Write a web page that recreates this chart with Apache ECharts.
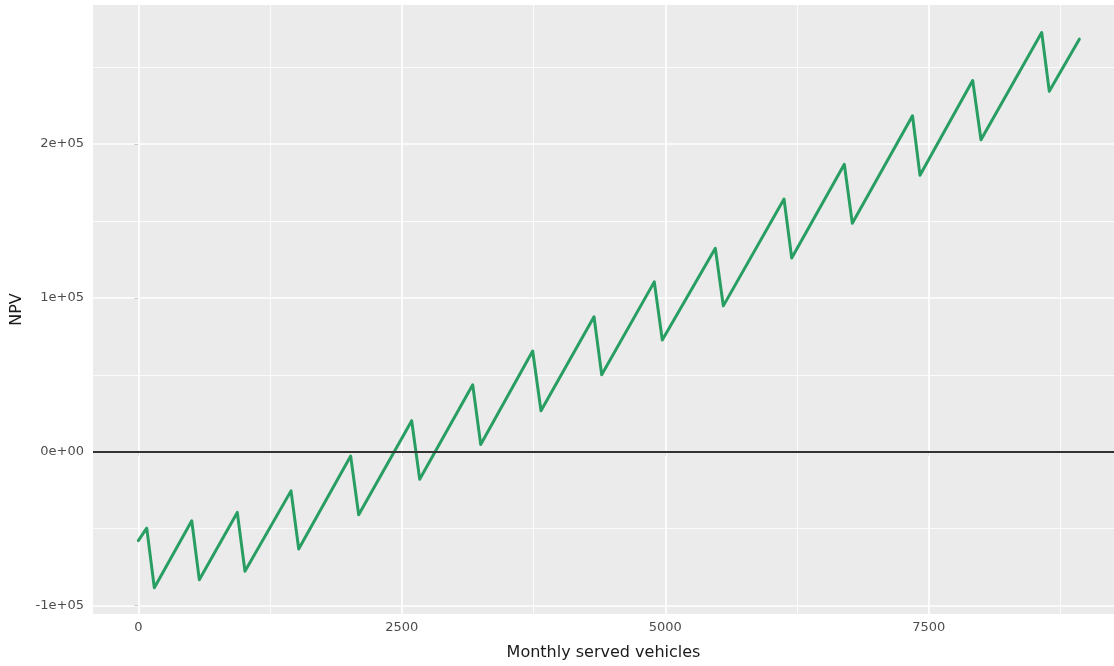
<!DOCTYPE html>
<html>
<head>
<meta charset="utf-8">
<title>NPV vs monthly served vehicles</title>
<script src="https://cdn.jsdelivr.net/npm/echarts@6/dist/echarts.min.js"></script>
<style>
  html, body { margin: 0; padding: 0; background: #ffffff; }
  #chart { width: 1114px; height: 666px; }
</style>
</head>
<body>
<div id="chart"></div>
<script>
// Monthly served vehicles (x) and net present value (y) at each vertex of the sawtooth
const vehicles = [0, 80, 152, 507, 579, 939, 1012, 1449, 1522, 2015, 2091, 2594, 2670,
  3173, 3249, 3742, 3821, 4324, 4397, 4896, 4972, 5475, 5551, 6127, 6200, 6699, 6775,
  7346, 7417, 7917, 7996, 8572, 8644, 8929];
const npv = [-57700, -49600, -88400, -44800, -83200, -39400, -77600, -25400, -63200,
  -2800, -40900, 20200, -17900, 43500, 4700, 65500, 26700, 87700, 50000, 110400, 72600,
  132200, 94800, 164200, 125900, 186800, 148500, 218300, 179700, 241200, 202800,
  272400, 234200, 268100];

// Axis ticks and their labels
const xTicks = [0, 2500, 5000, 7500];
const xMinor = [1250, 3750, 6250, 8750];
const yTicks = [-100000, 0, 100000, 200000];
const yTickLabels = ['-1e+05', '0e+00', '1e+05', '2e+05'];
const yMinor = [-50000, 50000, 150000, 250000];

const FONT = '"DejaVu Sans", "Liberation Sans", sans-serif';
const points = vehicles.map((v, i) => [v, npv[i]]);

const gridLines = [];
xMinor.forEach(v => gridLines.push({ xAxis: v, lineStyle: { color: '#ffffff', width: 0.8, type: 'solid' } }));
yMinor.forEach(v => gridLines.push({ yAxis: v, lineStyle: { color: '#ffffff', width: 0.8, type: 'solid' } }));
xTicks.forEach(v => gridLines.push({ xAxis: v, lineStyle: { color: '#ffffff', width: 1.7, type: 'solid' } }));
yTicks.forEach(v => gridLines.push({ yAxis: v, lineStyle: { color: '#ffffff', width: 1.7, type: 'solid' } }));

const chart = echarts.init(document.getElementById('chart'), null, { renderer: 'canvas' });
chart.setOption({
  animation: false,
  backgroundColor: '#ffffff',
  grid: {
    left: 93, right: 0, top: 5, bottom: 49,
    show: true, backgroundColor: '#EBEBEB', borderWidth: 0
  },
  xAxis: {
    type: 'value',
    min: -430, max: 9258,
    name: 'Monthly served vehicles',
    nameLocation: 'middle',
    nameGap: 31,
    nameTextStyle: { fontFamily: FONT, fontSize: 16, color: '#1a1a1a' },
    axisLine: { show: false },
    axisTick: { show: true, length: 4, lineStyle: { color: '#333333', width: 1 }, customValues: xTicks },
    axisLabel: {
      fontFamily: FONT, fontSize: 13, color: '#4D4D4D', margin: 7, customValues: xTicks,
      formatter: v => String(v)
    },
    splitLine: { show: false }
  },
  yAxis: {
    type: 'value',
    min: -105400, max: 290300,
    name: 'NPV',
    nameLocation: 'middle',
    nameGap: 67,
    nameTextStyle: { fontFamily: FONT, fontSize: 16, color: '#1a1a1a' },
    axisLine: { show: false },
    axisTick: { show: true, length: 4, lineStyle: { color: '#333333', width: 1 }, customValues: yTicks },
    axisLabel: {
      fontFamily: FONT, fontSize: 13, color: '#4D4D4D', margin: 9, customValues: yTicks,
      formatter: v => yTickLabels[yTicks.indexOf(v)]
    },
    splitLine: { show: false }
  },
  series: [
    {
      // panel grid lines, kept beneath the data line
      type: 'line',
      data: [],
      silent: true,
      z: 1,
      markLine: {
        z: 1,
        silent: true,
        symbol: 'none',
        animation: false,
        label: { show: false },
        data: gridLines
      }
    },
    {
      type: 'line',
      data: points,
      showSymbol: false,
      symbol: 'none',
      z: 3,
      lineStyle: { color: '#289E63', width: 3, join: 'round', cap: 'round' }
    },
    {
      // zero reference line
      type: 'line',
      data: [],
      silent: true,
      z: 4,
      markLine: {
        z: 4,
        silent: true,
        symbol: 'none',
        animation: false,
        label: { show: false },
        data: [{ yAxis: 0, lineStyle: { color: '#333333', width: 2, type: 'solid' } }]
      }
    }
  ]
});
</script>
</body>
</html>
